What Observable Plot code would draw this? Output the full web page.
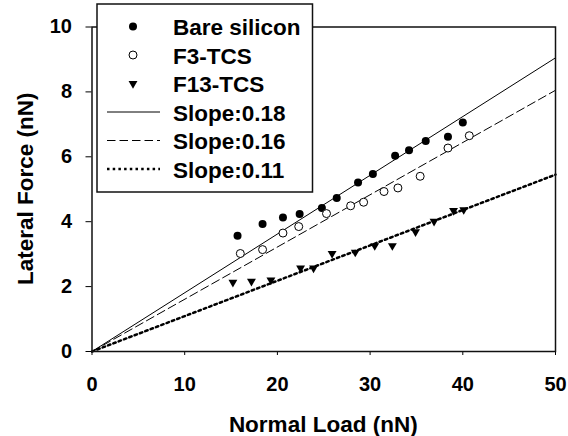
<!DOCTYPE html>
<html><head><meta charset="utf-8">
<script src="https://cdn.jsdelivr.net/npm/d3@7"></script>
<script src="https://cdn.jsdelivr.net/npm/@observablehq/plot@0.6"></script>
<style>body{margin:0;background:#fff}</style>
</head><body><div id="chart"></div>
<script>
// Data
const bareX = [15.7, 18.4, 20.6, 22.4, 24.8, 26.4, 28.7, 30.3, 32.7, 34.2, 36.0, 38.4, 40.0];
const bareY = [3.57, 3.93, 4.13, 4.24, 4.42, 4.73, 5.21, 5.47, 6.03, 6.20, 6.49, 6.62, 7.06];
const f3X = [16.0, 18.4, 20.6, 22.3, 25.3, 27.9, 29.3, 31.5, 33.0, 35.4, 38.4, 40.7];
const f3Y = [3.02, 3.14, 3.65, 3.85, 4.25, 4.49, 4.60, 4.93, 5.04, 5.40, 6.27, 6.65];
const f13X = [15.2, 17.2, 19.3, 22.5, 23.9, 25.9, 28.4, 30.5, 32.4, 34.9, 36.9, 39.0, 40.1];
const f13Y = [2.13, 2.16, 2.20, 2.57, 2.57, 3.02, 3.06, 3.26, 3.26, 3.69, 4.01, 4.34, 4.37];
const slopes = [0.181, 0.161, 0.109];
const fitX = [0, 50];
const xTicks = [0, 10, 20, 30, 40, 50];
const yTicks = [0, 2, 4, 6, 8, 10];
const legendLabels = ["Bare silicon", "F3-TCS", "F13-TCS", "Slope:0.18", "Slope:0.16", "Slope:0.11"];
const xTitle = "Normal Load (nN)";
const yTitle = "Lateral Force (nN)";

const zip = (xs, ys) => xs.map((x, i) => ({x, y: ys[i]}));
const bare = zip(bareX, bareY);
const f3 = zip(f3X, f3Y);
const f13 = zip(f13X, f13Y);
const fits = slopes.map(s => fitX.map(x => ({x, y: s * x})));
const lineStyles = [
  {strokeWidth: 1, strokeDasharray: "none"},
  {strokeWidth: 1, strokeDasharray: "8.5 4"},
  {strokeWidth: 2.5, strokeDasharray: "2.5 3.2"}
];

const plot = Plot.plot({
  width: 568, height: 436,
  marginLeft: 91.5, marginRight: 13, marginTop: 26.5, marginBottom: 85,
  style: {fontFamily: "Arial, 'Liberation Sans', sans-serif", fontSize: "20px", fontWeight: "bold", color: "black", background: "white"},
  x: {domain: [0, 50], ticks: xTicks, tickSize: 4, tickPadding: 21, label: null},
  y: {domain: [0, 10], ticks: yTicks, tickSize: 6, tickPadding: 14, label: null},
  marks: [
    ...fits.map((d, i) => Plot.line(d, {x: "x", y: "y", stroke: "black", strokeWidth: lineStyles[i].strokeWidth, strokeDasharray: lineStyles[i].strokeDasharray})),
    Plot.dot(bare, {x: "x", y: "y", r: 4, symbol: "circle", fill: "black"}),
    Plot.dot(f3, {x: "x", y: "y", r: 4, symbol: "circle", fill: "white", stroke: "black", strokeWidth: 1}),
    Plot.dot(f13, {x: "x", y: "y", r: 3.3, symbol: "triangle", fill: "black", rotate: 180}),
    Plot.frame({stroke: "#111", strokeWidth: 1.5})
  ]
});

const svg = d3.select(plot);
const xs = plot.scale("x").range, ys = plot.scale("y").range;
svg.append("text")
  .attr("x", (xs[0] + xs[1]) / 2).attr("y", 432)
  .attr("text-anchor", "middle")
  .style("font-size", "22.5px").style("font-weight", "bold")
  .text(xTitle);
svg.append("text")
  .attr("transform", `translate(33,${(ys[0] + ys[1]) / 2}) rotate(-90)`)
  .attr("text-anchor", "middle")
  .style("font-size", "22.5px").style("font-weight", "bold")
  .text(yTitle);

// Legend
const lg = svg.append("g").attr("text-anchor", "start");
lg.append("rect").attr("x", 97).attr("y", 4).attr("width", 215.5).attr("height", 188)
  .attr("fill", "white").attr("stroke", "#111").attr("stroke-width", 1.5);
const rowY = i => 26.5 + i * 28.5;
legendLabels.forEach((t, i) => {
  lg.append("text").attr("x", 173).attr("y", rowY(i) + 8.5).attr("text-anchor", "start")
    .style("font-size", "22.5px").style("font-weight", "bold").attr("fill", "black").text(t);
});
lg.append("path").attr("d", d3.symbol(d3.symbolCircle, Math.PI * 16)()).attr("transform", `translate(133,${rowY(0)})`).attr("fill", "black");
lg.append("path").attr("d", d3.symbol(d3.symbolCircle, Math.PI * 16)()).attr("transform", `translate(133,${rowY(1)})`).attr("fill", "white").attr("stroke", "black");
lg.append("path").attr("d", d3.symbol(d3.symbolTriangle, Math.PI * 3.3 * 3.3)()).attr("transform", `translate(133,${rowY(2)}) rotate(180)`).attr("fill", "black");
lineStyles.forEach((s, i) => {
  lg.append("line").attr("x1", 107).attr("x2", 160).attr("y1", rowY(3 + i)).attr("y2", rowY(3 + i))
    .attr("stroke", "black").attr("stroke-width", s.strokeWidth)
    .attr("stroke-dasharray", s.strokeDasharray);
});

document.getElementById("chart").appendChild(plot);
</script>
</body></html>
